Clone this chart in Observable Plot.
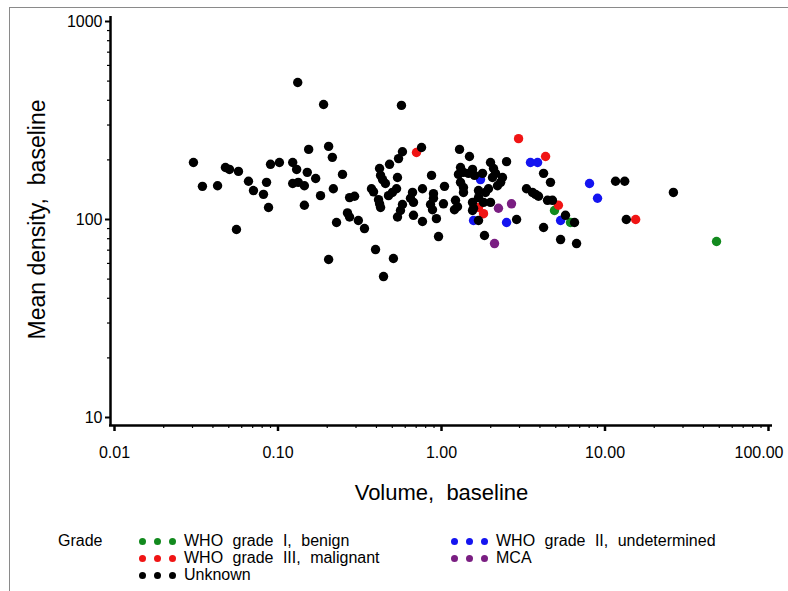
<!DOCTYPE html>
<html>
<head>
<meta charset="utf-8">
<script src="https://cdn.jsdelivr.net/npm/d3@7"></script>
<script src="https://cdn.jsdelivr.net/npm/@observablehq/plot@0.6"></script>
<style>
  html, body { margin: 0; padding: 0; background: #fff; }
  body { font-family: "Liberation Sans", Arial, sans-serif; }
  #wrap { position: relative; width: 788px; height: 591px; overflow: hidden; }
  #frame { position: absolute; left: 9px; top: 7px; width: 820px; height: 620px;
           border-top: 1.5px solid #8a8a8a; border-left: 1.5px solid #8a8a8a; }
  #chart { position: absolute; left: 0; top: 0; }
  .lg { position: absolute; font-size: 16px; color: #000; white-space: nowrap; word-spacing: 5px; line-height: 16px; height: 16px; }
  .dot { position: absolute; width: 7px; height: 7px; border-radius: 50%; }
</style>
</head>
<body>
<div id="wrap">
  <div id="frame"></div>
  <div id="chart"></div>
  <div id="legend"></div>
</div>
<script>
// ---- data ----
const gradeNames = ["WHO grade I, benign", "WHO grade II, undetermined", "WHO grade III, malignant", "MCA", "Unknown"];
const gradeColors = ["#128a1e", "#1414f0", "#f01414", "#7a1e82", "#000000"];

const gradeIVolume = [4.91, 6.15, 48.1];
const gradeIDensity = [111, 96.6, 77.4];

const gradeIIVolume = [1.732, 1.570, 2.50, 3.50, 3.87, 5.35, 8.04, 9.0];
const gradeIIDensity = [159, 98.8, 96.6, 194, 194, 98.8, 152, 128];

const gradeIIIVolume = [0.703, 1.684, 1.807, 2.96, 4.33, 5.19, 15.4];
const gradeIIIDensity = [218, 115, 107, 256, 208, 118, 100];

const mcaVolume = [2.23, 2.68, 2.11];
const mcaDensity = [114, 120, 75.6];

const unknownVolume = [0.0304,0.0345,0.0427,0.0477,0.0505,0.0573,0.0557,0.066,0.0708,0.0815,
  0.0851,0.0875,0.090,0.102,0.123,0.130,0.123,0.133,0.132,0.145,
  0.151,0.145,0.154,0.170,0.182,0.190,0.204,0.215,0.218,0.228,
  0.204,0.248,0.266,0.274,0.274,0.294,0.310,0.338,0.373,0.384,
  0.395,0.418,0.424,0.436,0.454,0.412,0.418,0.424,0.442,0.481,
  0.501,0.531,0.474,0.508,0.538,0.546,0.577,0.569,0.538,0.755,
  0.577,0.561,0.665,0.646,0.674,0.765,0.869,0.893,0.893,0.857,
  0.881,1.028,0.674,0.765,0.931,0.959,1.043,1.289,1.483,1.994,
  2.50,1.307,1.363,1.27,1.463,1.548,1.592,1.782,1.307,1.363,
  1.363,1.218,1.253,1.20,2.08,2.14,2.05,2.36,2.30,2.20,
  1.938,1.858,1.684,1.684,1.548,1.570,1.548,1.994,1.807,1.684,
  1.832,2.88,4.21,4.64,3.31,3.60,3.76,3.92,4.45,4.77,
  5.73,6.51,4.21,5.35,6.70,11.6,13.2,26.2,13.5];
const unknownDensity = [194,147,148,183,179,175,89,156,140,134,
  154,115,190,194,194,179,152,154,492,148,
  173,118,226,161,132,381,234,206,143,96.6,
  62.8,169,108,103,129,131,98.8,90,143,138,
  70.5,181,167,159,152,126,120,115,51.5,190,
  137,143,132,63.5,103,203,220,377,163,231,
  119,111,137,128,122,143,167,135,128,119,
  112,120,105,97.7,101,82,147,226,208,194,
  196,183,173,169,171,179,167,171,154,145,
  137,125,116,112,181,171,163,163,154,148,
  143,137,140,129,122,114,111,122,122,98.8,
  83,100,171,154,143,137,134,131,125,125,
  105,96.6,91.1,79.2,75.6,156,156,137,100];

const xMajorTicks = [0.01, 0.1, 1, 10, 100];
const xTickLabels = ["0.01", "0.10", "1.00", "10.00", "100.00"];
const xMinorTicks = [0.02,0.03,0.04,0.05,0.06,0.07,0.08,0.09,0.2,0.3,0.4,0.5,0.6,0.7,0.8,0.9,2,3,4,5,6,7,8,9,20,30,40,50,60,70,80,90];
const yMajorTicks = [10, 100, 1000];
const yTickLabels = ["10", "100", "1000"];
const yMinorTicks = [20,30,40,50,60,70,80,90,200,300,400,500,600,700,800,900];

const xTitle = "Volume,  baseline";
const yTitle = "Mean density,  baseline";
const legendTitle = "Grade";

// ---- build table ----
const groups = [
  [gradeNames[0], gradeIVolume, gradeIDensity],
  [gradeNames[1], gradeIIVolume, gradeIIDensity],
  [gradeNames[2], gradeIIIVolume, gradeIIIDensity],
  [gradeNames[3], mcaVolume, mcaDensity],
  [gradeNames[4], unknownVolume, unknownDensity]
];
const points = [];
for (const [name, vols, dens] of groups) {
  vols.forEach((v, i) => points.push({volume: v, density: dens[i], grade: name}));
}

const font = '"Liberation Sans", Arial, sans-serif';
const lastTick = xMajorTicks[xMajorTicks.length - 1];
const xLabel = d => xTickLabels[xMajorTicks.indexOf(d)];

const chart = Plot.plot({
  width: 788,
  height: 591,
  marginLeft: 114,
  marginRight: 20,
  marginTop: 21,
  marginBottom: 174,
  x: {type: "log", domain: [0.01, 100], label: null},
  y: {type: "log", domain: [10, 1000], label: null},
  color: {domain: gradeNames, range: gradeColors},
  style: {fontFamily: font, fontSize: "16px", color: "#000", background: "transparent", overflow: "visible"},
  marks: [
    Plot.axisY(yMinorTicks, {tickSize: 3, tickFormat: () => "", dx: -4, strokeWidth: 1.2, label: null}),
    Plot.axisY(yMajorTicks, {tickSize: 5, tickFormat: d => yTickLabels[yMajorTicks.indexOf(d)], dx: -4, tickPadding: 3, fontSize: 16, strokeWidth: 2, label: null}),
    Plot.axisX(xMinorTicks, {tickSize: 3, tickFormat: () => "", dy: 8, strokeWidth: 1.2, label: null}),
    Plot.axisX(xMajorTicks, {tickSize: 6, tickFormat: d => d === lastTick ? "" : xLabel(d), dy: 8, tickPadding: 15, fontSize: 16, strokeWidth: 2.5, label: null}),
    Plot.text([lastTick], {x: d => d, text: xLabel, frameAnchor: "bottom", dy: 29, dx: 15, textAnchor: "end", lineAnchor: "top", fontSize: 16}),
    Plot.ruleX([0.01], {dx: -4, insetTop: -5, insetBottom: -9, strokeWidth: 2.5}),
    Plot.ruleY([10], {dy: 8, insetLeft: -5, insetRight: -4, strokeWidth: 2.5}),
    Plot.dot(points, {x: "volume", y: "density", fill: "grade", r: 4.7}),
    Plot.text([xTitle], {frameAnchor: "bottom", dy: 75, fontSize: 22, lineAnchor: "middle"}),
    Plot.text([yTitle], {frameAnchor: "left", dx: -77, fontSize: 23, rotate: -90, lineAnchor: "middle", textAnchor: "middle"})
  ]
});
document.getElementById("chart").appendChild(chart);

// ---- legend (HTML) ----
const legend = document.getElementById("legend");
function addText(txt, x, y) {
  const d = document.createElement("div");
  d.className = "lg";
  d.textContent = txt;
  d.style.left = x + "px";
  d.style.top = (y - 8) + "px";
  legend.appendChild(d);
}
function addDots(color, x0, y) {
  [0, 15, 30].forEach(o => {
    const s = document.createElement("div");
    s.className = "dot";
    s.style.background = color;
    s.style.left = (x0 + o - 3.5) + "px";
    s.style.top = (y - 3.5) + "px";
    legend.appendChild(s);
  });
}
addText(legendTitle, 58, 541);
const legendSlots = [
  [0, 142, 541], [1, 454, 541],
  [2, 142, 558], [3, 454, 558],
  [4, 142, 575]
];
for (const [gi, x0, y] of legendSlots) {
  addDots(gradeColors[gi], x0, y);
  addText(gradeNames[gi], x0 + 42, y);
}
</script>
</body>
</html>
